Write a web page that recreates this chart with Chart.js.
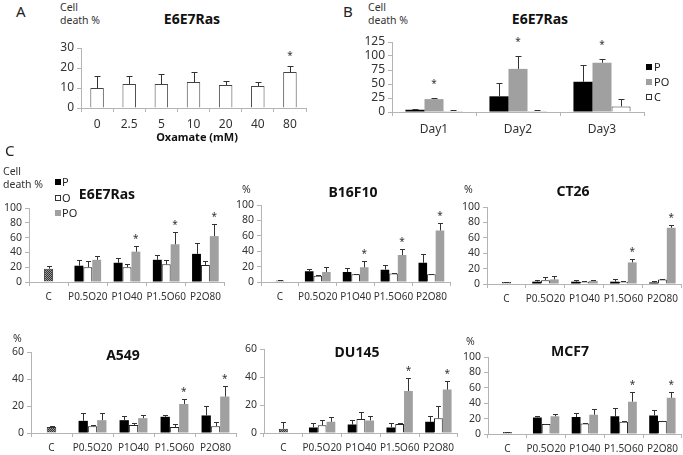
<!DOCTYPE html>
<html><head><meta charset="utf-8">
<script src="https://cdn.jsdelivr.net/npm/chart.js@4/dist/chart.umd.min.js"></script>
<style>
body{margin:0;background:#fff;width:683px;height:455px;position:relative;overflow:hidden;font-family:"Noto Sans",sans-serif;color:#222}
canvas{position:absolute}
.t{position:absolute;white-space:nowrap;line-height:1}
.c{text-align:center;width:200px}
.ttl{font-weight:700;font-size:14px;color:#111}
.lbl{font-size:10.5px;line-height:13px;color:#333}
.pl{font-size:15px;color:#222}
.sq{position:absolute;width:6px;height:6px;box-sizing:border-box}
.lg{font-size:11px;color:#222}
</style></head><body>
<canvas id="cA"></canvas><canvas id="cB"></canvas>
<canvas id="c1"></canvas><canvas id="c2"></canvas><canvas id="c3"></canvas>
<canvas id="c4"></canvas><canvas id="c5"></canvas><canvas id="c6"></canvas>

<div class="t pl" style="left:16px;top:4px">A</div>
<div class="t lbl" style="left:60px;top:1px">Cell<br>death %</div>
<div class="t ttl c" style="left:92px;top:12px">E6E7Ras</div>
<div class="t c" style="left:97px;top:131px;font-size:11px;font-weight:700;color:#111">Oxamate (mM)</div>

<div class="t pl" style="left:343px;top:4px">B</div>
<div class="t lbl" style="left:368px;top:1px">Cell<br>death %</div>
<div class="t ttl c" style="left:440px;top:12px">E6E7Ras</div>
<div class="sq" style="left:646px;top:64px;background:#000"></div>
<div class="t lg" style="left:654px;top:61px">P</div>
<div class="sq" style="left:646px;top:79px;background:#a0a0a0"></div>
<div class="t lg" style="left:654px;top:76px">PO</div>
<div class="sq" style="left:646px;top:94px;background:#fff;border:1px solid #333"></div>
<div class="t lg" style="left:654px;top:91px">C</div>

<div class="t pl" style="left:5px;top:143px">C</div>
<div class="t lbl" style="left:3px;top:165px">Cell<br>death %</div>
<div class="sq" style="left:55px;top:179px;background:#000"></div>
<div class="t lg" style="left:62px;top:176px">P</div>
<div class="sq" style="left:55px;top:195px;background:#fff;border:1px solid #333"></div>
<div class="t lg" style="left:62px;top:192px">O</div>
<div class="sq" style="left:55px;top:210px;background:#a0a0a0"></div>
<div class="t lg" style="left:62px;top:207px">PO</div>
<div class="t ttl c" style="left:7px;top:187px">E6E7Ras</div>

<div class="t lbl" style="left:242px;top:183px">%</div>
<div class="t ttl c" style="left:253px;top:185px">B16F10</div>
<div class="t lbl" style="left:464px;top:183px">%</div>
<div class="t ttl c" style="left:473px;top:184px">CT26</div>

<div class="t lbl" style="left:13px;top:332px">%</div>
<div class="t ttl c" style="left:23px;top:348px">A549</div>
<div class="t ttl c" style="left:257px;top:345px">DU145</div>
<div class="t lbl" style="left:466px;top:335px">%</div>
<div class="t ttl c" style="left:470px;top:344px">MCF7</div>

<script>
// ---------- DATA ----------
// Panel A
const doseLabels = ['0','2.5','5','10','20','40','80'];
const doseDeath  = [10, 12, 12, 13, 11.5, 11, 18];
const doseErr    = [6, 4, 5, 5, 2, 2, 3];
const doseStar   = [false,false,false,false,false,false,true];

// Panel B
const dayLabels = ['Day1','Day2','Day3'];
const dayP     = [4, 28, 54];
const dayPErr  = [2, 24, 30];
const dayPO    = [23, 77, 88];
const dayPOErr = [1.5, 23, 6];
const dayC     = [2, 2, 10];
const dayCErr  = [1, 1, 14];
const dayStar  = [true, true, true];

// Panel C
const combos = ['C','P0.5O20','P1O40','P1.5O60','P2O80'];

const e6Ctrl = [18], e6CtrlErr = [3];
const e6P  = [22, 26, 30, 38],  e6PErr  = [8, 6, 7, 15];
const e6O  = [20, 20, 24, 23],  e6OErr  = [8, 5, 6, 6];
const e6PO = [30, 41, 51, 62],  e6POErr = [5, 8, 17, 17];
const e6Star = [false, true, true, true];

const b16Ctrl = [2], b16CtrlErr = [1];
const b16P  = [14, 13, 16, 25], b16PErr  = [3, 5, 6, 11];
const b16O  = [8, 10, 11, 10],  b16OErr  = [0.5, 0.5, 0.5, 0.5];
const b16PO = [13, 19, 35, 67], b16POErr = [7, 8, 8, 9];
const b16Star = [false, true, true, true];

const ct26Ctrl = [2.5], ct26CtrlErr = [0.5];
const ct26P  = [3, 3, 3, 2],    ct26PErr  = [2, 2, 3, 2];
const ct26O  = [5, 3, 3, 6],    ct26OErr  = [4, 1, 1, 0.5];
const ct26PO = [6, 4, 28, 73],  ct26POErr = [4, 1, 5, 4];
const ct26Star = [false, false, true, true];

const a549Ctrl = [4.5], a549CtrlErr = [0.5];
const a549P  = [9, 9.5, 12, 13],    a549PErr  = [6, 3, 1, 7];
const a549O  = [5, 6, 4.5, 5],      a549OErr  = [1, 1.5, 2.5, 3];
const a549PO = [9.5, 11, 21.5, 27], a549POErr = [5, 2, 3.5, 8];
const a549Star = [false, false, true, true];

const du145Ctrl = [3], du145CtrlErr = [5];
const du145P  = [4, 6, 4, 8],         du145PErr  = [3, 3, 3, 4];
const du145O  = [5.5, 10, 6.5, 10.5], du145OErr  = [3.5, 5, 0.5, 8.5];
const du145PO = [8, 9, 30, 31],       du145POErr = [3.5, 3, 9, 6];
const du145Star = [false, false, true, true];

const mcf7Ctrl = [2.5], mcf7CtrlErr = [0.5];
const mcf7P  = [21.5, 22, 23, 24], mcf7PErr  = [1.5, 5, 11, 7];
const mcf7O  = [13, 13.5, 16, 17], mcf7OErr  = [0.5, 0.5, 0.5, 0.5];
const mcf7PO = [23, 25, 42, 47],   mcf7POErr = [3, 7, 13, 7];
const mcf7Star = [false, false, true, true];

// ---------- STYLE ----------
const AX = '#b4b4b4', TXT = '#333', GRAY = '#a0a0a0', FONT = '"Noto Sans", sans-serif';

const errPlugin = {
  id: 'errbars',
  afterDatasetsDraw(chart, args, o) {
    const ctx = chart.ctx, ys = chart.scales.y;
    ctx.save();
    chart.data.datasets.forEach((ds, di) => {
      const meta = chart.getDatasetMeta(di);
      meta.data.forEach((bar, i) => {
        const v = ds.data[i];
        if (v == null) return;
        const e = ds.errors ? ds.errors[i] : 0;
        const topPix = ys.getPixelForValue(v + (e || 0));
        if (e > 0) {
          const x = Math.round(bar.x) + 0.5;
          ctx.strokeStyle = '#333'; ctx.lineWidth = 1;
          ctx.beginPath();
          ctx.moveTo(x, bar.y); ctx.lineTo(x, Math.round(topPix) + 0.5);
          ctx.moveTo(x - o.cap, Math.round(topPix) + 0.5); ctx.lineTo(x + o.cap, Math.round(topPix) + 0.5);
          ctx.stroke();
        }
        if (ds.stars && ds.stars[i]) {
          ctx.fillStyle = '#333';
          ctx.font = '10px ' + FONT;
          ctx.textAlign = 'center'; ctx.textBaseline = 'alphabetic';
          ctx.fillText('*', bar.x, topPix - o.star + 6);
        }
      });
    });
    ctx.restore();
  }
};

function place(id, g) {
  const cv = document.getElementById(id);
  const left = g.l - g.W, top = g.t - g.pt;
  const w = g.r - left + g.pr, h = g.b - top + g.H;
  cv.style.left = left + 'px'; cv.style.top = top + 'px';
  cv.width = w; cv.height = h; cv.style.width = w + 'px'; cv.style.height = h + 'px';
  return cv;
}

function scales(g, ymax, step, fx, fy) {
  return {
    x: {
      grid: { display: true, drawOnChartArea: false, drawTicks: true, tickLength: 4, color: AX, offset: true },
      border: { display: true, color: AX },
      ticks: { font: { family: FONT, size: fx }, color: TXT, padding: g.tp, autoSkip: false, maxRotation: 0 },
      afterFit: s => { s.height = g.H; }
    },
    y: {
      min: 0, max: ymax,
      grid: { display: true, drawOnChartArea: false, drawTicks: true, tickLength: 4, color: AX },
      border: { display: true, color: AX },
      ticks: { stepSize: step, autoSkip: false, font: { family: FONT, size: fy }, color: TXT, padding: 3 },
      afterFit: s => { s.width = g.W; }
    }
  };
}

function baseOpts(g, ymax, step, fx, fy, cap, star) {
  return {
    responsive: false, animation: false, devicePixelRatio: 1,
    layout: { padding: { top: g.pt, right: g.pr, left: 0, bottom: 0 } },
    plugins: { legend: { display: false }, tooltip: { enabled: false }, errbars: { cap: cap, star: star } },
    scales: scales(g, ymax, step, fx, fy)
  };
}

// Panel A
(function () {
  const g = { l: 81, r: 306, t: 48, b: 108, W: 40, H: 30, pt: 14, pr: 12, tp: 5 };
  const cv = place('cA', g);
  new Chart(cv, {
    type: 'bar',
    data: { labels: doseLabels, datasets: [{
      data: doseDeath, errors: doseErr, stars: doseStar,
      backgroundColor: '#fff', borderColor: '#444', borderWidth: 1,
      categoryPercentage: 0.42, barPercentage: 1
    }]},
    options: baseOpts(g, 30, 10, 12, 12, 3, 13),
    plugins: [errPlugin]
  });
})();

// Panel B
(function () {
  const g = { l: 392, r: 644, t: 42, b: 112, W: 40, H: 26, pt: 14, pr: 3, tp: 6 };
  const cv = place('cB', g);
  const common = { categoryPercentage: 0.68, barPercentage: 1 };
  new Chart(cv, {
    type: 'bar',
    data: { labels: dayLabels, datasets: [
      Object.assign({ data: dayP, errors: dayPErr, backgroundColor: '#000' }, common),
      Object.assign({ data: dayPO, errors: dayPOErr, stars: dayStar, backgroundColor: GRAY }, common),
      Object.assign({ data: dayC, errors: dayCErr, backgroundColor: '#fff', borderColor: '#333', borderWidth: 1 }, common)
    ]},
    options: baseOpts(g, 125, 25, 12, 12, 3, 17),
    plugins: [errPlugin]
  });
})();

function cellChart(id, g, ymax, step, ctrl, ctrlErr, P, PErr, O, OErr, PO, POErr, stars) {
  const cv = place(id, g);
  const off = document.createElement('canvas'); off.width = 2; off.height = 2;
  const oc = off.getContext('2d');
  oc.fillStyle = '#9a9a9a'; oc.fillRect(0, 0, 2, 2);
  oc.fillStyle = '#333'; oc.fillRect(0, 0, 1, 1); oc.fillRect(1, 1, 1, 1);
  const pat = cv.getContext('2d').createPattern(off, 'repeat');
  const pad = a => [null].concat(a);
  const common = { categoryPercentage: 0.68, barPercentage: 1 };
  new Chart(cv, {
    type: 'bar',
    data: { labels: combos, datasets: [
      { data: ctrl.concat([null, null, null, null]), errors: ctrlErr, backgroundColor: pat,
        borderColor: '#333', borderWidth: 1, grouped: false, categoryPercentage: 0.68, barPercentage: 0.34 },
      Object.assign({ data: pad(P), errors: pad(PErr), backgroundColor: '#000' }, common),
      Object.assign({ data: pad(O), errors: pad(OErr), backgroundColor: '#fff', borderColor: '#222', borderWidth: 1 }, common),
      Object.assign({ data: pad(PO), errors: pad(POErr), stars: pad(stars), backgroundColor: GRAY }, common)
    ]},
    options: baseOpts(g, ymax, step, 10, 10.5, 2.5, 10),
    plugins: [errPlugin]
  });
}

const gC = (l, r, t, b) => ({ l, r, t, b, W: 28, H: 24, pt: 14, pr: 1, tp: 5 });
cellChart('c1', gC(29, 225, 208, 282), 100, 20, e6Ctrl, e6CtrlErr, e6P, e6PErr, e6O, e6OErr, e6PO, e6POErr, e6Star);
cellChart('c2', gC(261, 451, 205, 282), 100, 20, b16Ctrl, b16CtrlErr, b16P, b16PErr, b16O, b16OErr, b16PO, b16POErr, b16Star);
cellChart('c3', gC(487, 682, 207, 284), 100, 20, ct26Ctrl, ct26CtrlErr, ct26P, ct26PErr, ct26O, ct26OErr, ct26PO, ct26POErr, ct26Star);
cellChart('c4', gC(31, 236, 352, 433), 60, 20, a549Ctrl, a549CtrlErr, a549P, a549PErr, a549O, a549OErr, a549PO, a549POErr, a549Star);
cellChart('c5', gC(264, 458, 349, 433), 60, 20, du145Ctrl, du145CtrlErr, du145P, du145PErr, du145O, du145OErr, du145PO, du145POErr, du145Star);
cellChart('c6', gC(488, 682, 357, 434), 100, 20, mcf7Ctrl, mcf7CtrlErr, mcf7P, mcf7PErr, mcf7O, mcf7OErr, mcf7PO, mcf7POErr, mcf7Star);
</script>
</body></html>
